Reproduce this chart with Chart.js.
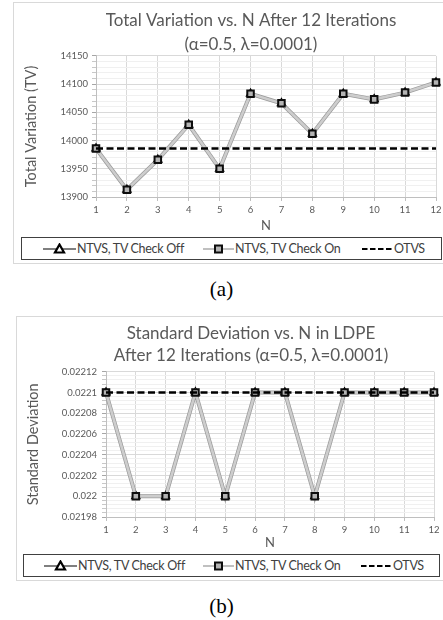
<!DOCTYPE html>
<html>
<head>
<meta charset="utf-8">
<script src="https://cdn.jsdelivr.net/npm/chart.js@4.4.1/dist/chart.umd.min.js"></script>
<style>
  body { margin: 0; background: #fff; width: 443px; height: 620px; overflow: hidden; position: relative; font-family: Lato, "Open Sans", sans-serif; }
  .frame { position: absolute; border: 1px solid #d9d9d9; background: #fff; }
  .frame canvas { position: absolute; left: 0; top: 0; }
  .legend { position: absolute; box-sizing: border-box; border: 1px solid #404040; background: #fff; font-size: 12.5px; letter-spacing: -0.3px; color: #404040; white-space: nowrap; }
  .legend .item { position: absolute; top: 0; height: 100%; display: flex; align-items: center; }
  .legend svg { display: block; }
  .cap { position: absolute; left: 0; width: 443px; text-align: center; font-family: "Liberation Serif", "DejaVu Serif", serif; font-size: 21px; color: #000; line-height: 1; }
</style>
</head>
<body>

<!-- the chart frames run past the right edge of the page, so titles centre on the full frame -->
<div class="frame" style="left:13px;top:2px;width:480px;height:260px">
  <canvas id="tvChart" width="474" height="233"></canvas>
</div>
<div class="legend" id="legendA" style="left:21px;top:237px;width:421px;height:23px"></div>
<div class="cap" style="top:279px">(a)</div>

<div class="frame" style="left:16px;top:316px;width:480px;height:263px">
  <canvas id="sdChart" width="468" height="236"></canvas>
</div>
<div class="legend" id="legendB" style="left:23px;top:554px;width:417px;height:23px"></div>
<div class="cap" style="top:596px">(b)</div>

<script>
// iteration count N on the x axis
const nLabels = ['1', '2', '3', '4', '5', '6', '7', '8', '9', '10', '11', '12'];

// (a) total variation
const tvCheckOff = [13986, 13913, 13966, 14028, 13950, 14083, 14066, 14012, 14083, 14073, 14085, 14103];
const tvCheckOn  = [13986, 13913, 13966, 14028, 13950, 14083, 14066, 14012, 14083, 14073, 14085, 14103];
const tvOtvs     = [13986, 13986, 13986, 13986, 13986, 13986, 13986, 13986, 13986, 13986, 13986, 13986];
const tvTicks = [13900, 13950, 14000, 14050, 14100, 14150];

// (b) standard deviation in LDPE
const sdCheckOff = [0.0221, 0.022, 0.022, 0.0221, 0.022, 0.0221, 0.0221, 0.022, 0.0221, 0.0221, 0.0221, 0.0221];
const sdCheckOn  = [0.0221, 0.022, 0.022, 0.0221, 0.022, 0.0221, 0.0221, 0.022, 0.0221, 0.0221, 0.0221, 0.0221];
const sdOtvs     = [0.0221, 0.0221, 0.0221, 0.0221, 0.0221, 0.0221, 0.0221, 0.0221, 0.0221, 0.0221, 0.0221, 0.0221];
const sdTicks = [0.02198, 0.022, 0.02202, 0.02204, 0.02206, 0.02208, 0.0221, 0.02212];

const seriesNames = ['NTVS, TV Check Off', 'NTVS, TV Check On', 'OTVS'];

const GREY_TEXT = '#595959';
const GRID_MAJOR = '#d9d9d9';
const GRID_MINOR = '#f0f0f0';

function makeDatasets(off, on, otvs) {
  return [
    {
      label: seriesNames[0], data: off, order: 2, yAxisID: 'y',
      borderColor: '#9a9a9a', borderWidth: 4, tension: 0,
      pointStyle: 'triangle', pointRadius: 4, pointBorderWidth: 2,
      pointBorderColor: '#000', pointBackgroundColor: '#fff'
    },
    {
      label: seriesNames[1], data: on, order: 1, yAxisID: 'y',
      borderColor: '#cdcdcd', borderWidth: 2.6, tension: 0,
      pointStyle: 'rect', pointRadius: 4.6, pointBorderWidth: 2,
      pointBorderColor: '#0d0d0d', pointBackgroundColor: '#b4b4b4'
    },
    {
      label: seriesNames[2], data: otvs, order: 0, yAxisID: 'y',
      borderColor: '#000', borderWidth: 2.4, borderDash: [7, 3.5], tension: 0,
      pointRadius: 0
    }
  ];
}

// y axis: labelled major ticks plus five unlabelled minor steps between them
function yAxis(opts) {
  const isMajor = v => opts.major.some(m => Math.abs(m - v) < opts.step / 100);
  return {
    min: opts.min, max: opts.max,
    afterFit: s => { s.width = opts.width; },
    border: { color: '#bfbfbf', width: 1 },
    grid: {
      color: ctx => isMajor(ctx.tick.value) ? GRID_MAJOR : GRID_MINOR,
      tickColor: ctx => isMajor(ctx.tick.value) ? '#a6a6a6' : '#c8c8c8',
      tickLength: 4
    },
    ticks: {
      stepSize: opts.step, autoSkip: false, padding: opts.pad,
      color: GREY_TEXT, font: { size: 9.5, family: 'Lato' },
      callback: v => isMajor(v) ? opts.fmt(v) : ''
    },
    title: {
      display: true, text: opts.title, color: GREY_TEXT,
      font: { size: 14.5, family: 'Lato' }, padding: { top: opts.titlePad, bottom: 0 }
    }
  };
}

// empty axis on the right that only reserves space, keeping the title box full width
function spacerAxis(width) {
  return {
    position: 'right', display: true,
    afterFit: s => { s.width = width; },
    border: { display: false },
    grid: { display: false, drawTicks: false },
    ticks: { display: false }
  };
}

function xAxis(height, titleBottom) {
  return {
    offset: false,
    afterFit: s => { s.height = height; },
    border: { color: '#bfbfbf', width: 1 },
    grid: { color: GRID_MAJOR, tickColor: '#bfbfbf', tickLength: 4, offset: false },
    ticks: { color: GREY_TEXT, font: { size: 9.5, family: 'Lato' }, padding: 3, maxRotation: 0, autoSkip: false },
    title: {
      display: true, text: 'N', color: GREY_TEXT,
      font: { size: 13, family: 'Lato' }, padding: { top: 0, bottom: titleBottom }
    }
  };
}

function buildChart(id, cfg) {
  return new Chart(document.getElementById(id), {
    type: 'line',
    data: { labels: nLabels, datasets: makeDatasets(cfg.off, cfg.on, cfg.otvs) },
    options: {
      responsive: false, animation: false,
      layout: { padding: 0 },
      plugins: {
        legend: { display: false },
        tooltip: { enabled: false },
        title: {
          display: true, text: cfg.title, color: GREY_TEXT,
          font: { size: 17, family: 'Lato', weight: 'normal', lineHeight: cfg.titleLH },
          padding: cfg.titlePad
        }
      },
      scales: { x: xAxis(cfg.xHeight, cfg.xTitleBottom), y: cfg.y, yRight: spacerAxis(cfg.rightPad) }
    }
  });
}

buildChart('tvChart', {
  off: tvCheckOff, on: tvCheckOn, otvs: tvOtvs,
  title: ['Total Variation vs. N After 12 Iterations', '(\u03b1=0.5, \u03bb=0.0001)'],
  titleLH: 1.38, titlePad: { top: 6, bottom: 0 }, rightPad: 52,
  xHeight: 39, xTitleBottom: 2,
  y: yAxis({
    min: tvTicks[0], max: tvTicks[tvTicks.length - 1], step: 10, major: tvTicks,
    width: 82, pad: 4, title: 'Total Variation (TV)', titlePad: 8.5,
    fmt: v => String(v)
  })
});

buildChart('sdChart', {
  off: sdCheckOff, on: sdCheckOn, otvs: sdOtvs,
  title: ['Standard Deviation vs. N in LDPE', 'After 12 Iterations (\u03b1=0.5, \u03bb=0.0001)'],
  titleLH: 1.27, titlePad: { top: 6, bottom: 5.5 }, rightPad: 51,
  xHeight: 36, xTitleBottom: 2,
  y: yAxis({
    min: sdTicks[0], max: sdTicks[sdTicks.length - 1], step: 0.000004, major: sdTicks,
    width: 89, pad: 5, title: 'Standard Deviation', titlePad: 8,
    fmt: v => String(Number(v.toFixed(5)))
  })
});

// legend row: line-with-marker swatches followed by series names
function legendIcon(kind) {
  if (kind === 0) {
    return '<svg width="33" height="12"><line x1="0" y1="6" x2="33" y2="6" stroke="#7f7f7f" stroke-width="2"/>' +
      '<polygon points="16.5,1.5 21,9.5 12,9.5" fill="#fff" stroke="#000" stroke-width="2.2" stroke-linejoin="miter"/></svg>';
  }
  if (kind === 1) {
    return '<svg width="31" height="12"><line x1="0" y1="6" x2="31" y2="6" stroke="#c0c0c0" stroke-width="2"/>' +
      '<rect x="12" y="2.5" width="7" height="7" fill="#b4b4b4" stroke="#0d0d0d" stroke-width="2"/></svg>';
  }
  return '<svg width="31" height="12"><line x1="0" y1="6" x2="31" y2="6" stroke="#000" stroke-width="2.2" stroke-dasharray="5.5,2.5"/></svg>';
}

function buildLegend(id, positions) {
  const box = document.getElementById(id);
  seriesNames.forEach((name, i) => {
    const item = document.createElement('div');
    item.className = 'item';
    item.style.left = positions[i] + 'px';
    item.innerHTML = legendIcon(i) + '<span style="margin-left:1px">' + name + '</span>';
    box.appendChild(item);
  });
}

buildLegend('legendA', [21, 181, 340]);
buildLegend('legendB', [20, 179, 337]);
</script>
</body>
</html>
